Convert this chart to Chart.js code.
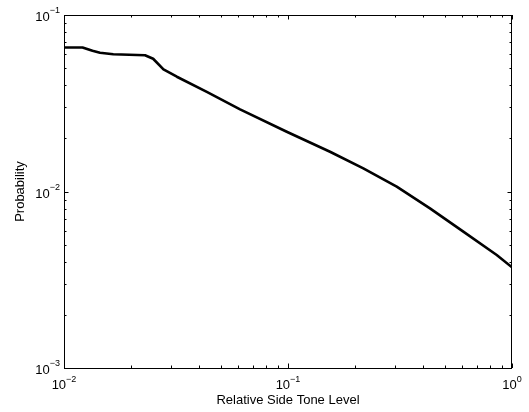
<!DOCTYPE html>
<html>
<head>
<meta charset="utf-8">
<script src="https://cdn.jsdelivr.net/npm/chart.js@4"></script>
<style>
  html, body { margin: 0; padding: 0; background: #fff; }
  canvas { display: block; }
</style>
</head>
<body>
<canvas id="chart" width="529" height="412"></canvas>
<script>
// Values
const sideTone = [0.01, 0.0121, 0.0134, 0.01448, 0.0166, 0.023, 0.025, 0.0278, 0.0319, 0.0434,
  0.0611, 0.0987, 0.154, 0.2169, 0.3057, 0.4303, 0.6063, 0.8546, 1.0];
const probability = [0.0654, 0.0655, 0.0627, 0.0611, 0.0599, 0.0591, 0.0565, 0.0492, 0.0447, 0.0367,
  0.0292, 0.0218, 0.0168, 0.01353, 0.01065, 0.00803, 0.00592, 0.00437, 0.00372];

const xMajor = [0.01, 0.1, 1];
const xExp = ['\u22122', '\u22121', '0'];
const yMajor = [0.001, 0.01, 0.1];
const yExp = ['\u22123', '\u22122', '\u22121'];
const minorMult = [2, 3, 4, 5, 6, 7, 8, 9];

const FONT = '"Liberation Sans", Arial, Helvetica, sans-serif';

function minorTicks(majors) {
  const out = [];
  for (let i = 0; i < majors.length - 1; i++) {
    minorMult.forEach(m => out.push(majors[i] * m));
  }
  return out;
}

// Box, inward ticks on all four sides and the 10^n labels (MATLAB style)
const boxPlugin = {
  id: 'matlabBox',
  afterDraw(chart) {
    const ctx = chart.ctx;
    const { left, right, top, bottom } = chart.chartArea;
    const xs = chart.scales.x;
    const ys = chart.scales.y;
    ctx.save();
    ctx.strokeStyle = '#000';
    ctx.lineWidth = 1;
    ctx.strokeRect(Math.round(left) + 0.5, Math.round(top) + 0.5,
      Math.round(right - left) - 1, Math.round(bottom - top));

    const tick = (x1, y1, x2, y2) => {
      ctx.beginPath();
      ctx.moveTo(x1, y1);
      ctx.lineTo(x2, y2);
      ctx.stroke();
    };
    const drawX = (vals, len) => vals.forEach(v => {
      const x = Math.round(xs.getPixelForValue(v)) + 0.5;
      tick(x, bottom, x, bottom - len);
      tick(x, top, x, top + len);
    });
    const drawY = (vals, len) => vals.forEach(v => {
      const y = Math.round(ys.getPixelForValue(v)) + 0.5;
      tick(left, y, left + len, y);
      tick(right, y, right - len, y);
    });
    drawX(xMajor, 4.5);
    drawX(minorTicks(xMajor), 2.5);
    drawY(yMajor, 4.5);
    drawY(minorTicks(yMajor), 2.5);

    // tick labels
    ctx.fillStyle = '#000';
    ctx.textBaseline = 'alphabetic';
    const baseFont = '13px ' + FONT;
    const expFont = '9px ' + FONT;
    xMajor.forEach((v, i) => {
      const x = xs.getPixelForValue(v);
      ctx.font = baseFont;
      const wb = ctx.measureText('10').width;
      ctx.font = expFont;
      const we = ctx.measureText(xExp[i]).width;
      const x0 = x - (wb + we) / 2;
      ctx.font = baseFont;
      ctx.textAlign = 'left';
      ctx.fillText('10', x0, bottom + 21);
      ctx.font = expFont;
      ctx.fillText(xExp[i], x0 + wb, bottom + 14);
    });
    yMajor.forEach((v, i) => {
      const y = ys.getPixelForValue(v);
      ctx.font = expFont;
      const we = ctx.measureText(yExp[i]).width;
      ctx.font = baseFont;
      const wb = ctx.measureText('10').width;
      const xe = left - 4;
      ctx.textAlign = 'left';
      ctx.fillText('10', xe - we - wb, y + 6);
      ctx.font = expFont;
      ctx.fillText(yExp[i], xe - we, y - 2);
    });
    ctx.restore();
  }
};

const ctx = document.getElementById('chart').getContext('2d');
new Chart(ctx, {
  type: 'line',
  data: {
    datasets: [{
      label: 'Probability',
      data: sideTone.map((x, i) => ({ x: x, y: probability[i] })),
      borderColor: '#000',
      borderWidth: 2.6,
      borderJoinStyle: 'round',
      pointRadius: 0,
      tension: 0,
      fill: false
    }]
  },
  options: {
    responsive: false,
    animation: false,
    layout: { padding: { top: 15, right: 17, left: 0, bottom: 0 } },
    plugins: {
      legend: { display: false },
      tooltip: { enabled: false }
    },
    scales: {
      x: {
        type: 'logarithmic',
        min: 0.01,
        max: 1,
        grid: { display: false },
        border: { display: false },
        ticks: { display: false },
        title: {
          display: true,
          text: 'Relative Side Tone Level',
          color: '#000',
          font: { family: FONT, size: 13 },
          padding: { top: 4, bottom: 4 }
        },
        afterFit(scale) { scale.height = 44; }
      },
      y: {
        type: 'logarithmic',
        min: 0.001,
        max: 0.1,
        grid: { display: false },
        border: { display: false },
        ticks: { display: false },
        title: {
          display: true,
          text: 'Probability',
          color: '#000',
          font: { family: FONT, size: 13 },
          padding: { top: 13, bottom: 4 }
        },
        afterFit(scale) { scale.width = 64; }
      }
    }
  },
  plugins: [boxPlugin]
});
</script>
</body>
</html>
